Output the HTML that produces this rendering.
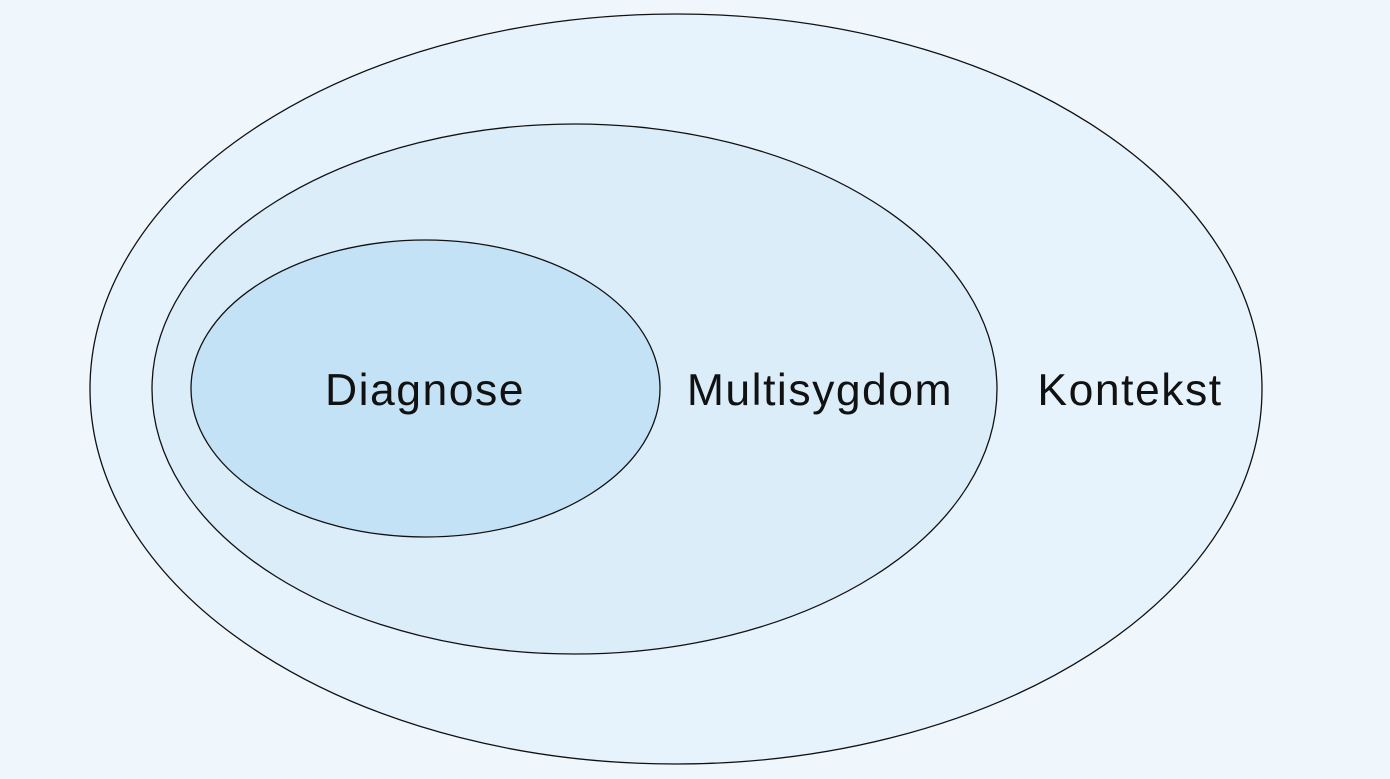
<!DOCTYPE html>
<html><head><meta charset="utf-8"><style>
html,body{margin:0;padding:0;background:#eff7fd;}
svg{display:block}
text{font-family:"Liberation Sans",Arial,sans-serif;font-size:44.5px;fill:#111;letter-spacing:1.5px}
</style></head><body>
<svg width="1390" height="779" viewBox="0 0 1390 779">
<rect width="1390" height="779" fill="#eff7fd"/>
<ellipse cx="676" cy="389" rx="586" ry="375" fill="#e7f3fc" stroke="#111" stroke-width="1.3"/>
<ellipse cx="574.5" cy="389" rx="422.5" ry="265" fill="#dcedfa" stroke="#111" stroke-width="1.3"/>
<ellipse cx="425.5" cy="388.5" rx="234.5" ry="148.5" fill="#c4e2f6" stroke="#111" stroke-width="1.3"/>
<text x="425" y="405" text-anchor="middle">Diagnose</text>
<text x="820" y="405" text-anchor="middle">Multisygdom</text>
<text x="1130" y="405" text-anchor="middle">Kontekst</text>
</svg>
</body></html>
